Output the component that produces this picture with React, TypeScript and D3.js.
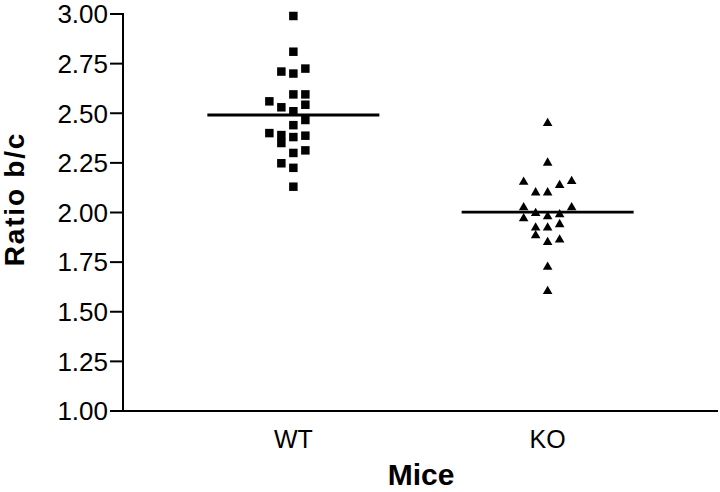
import React from "react";
import * as d3 from "d3";

const categories = ["WT", "KO"];
const yTicks = [1.0, 1.25, 1.5, 1.75, 2.0, 2.25, 2.5, 2.75, 3.0];

const wtValues = [2.99, 2.81, 2.71, 2.70, 2.725, 2.595, 2.595, 2.56, 2.53, 2.543, 2.51, 2.466, 2.44, 2.40, 2.39, 2.35, 2.38, 2.387, 2.30, 2.313, 2.248, 2.225, 2.13];
const wtCols = [0, 0, -1, 0, 1, 0, 1, -2, -1, 1, 0, 1, 0, -2, -1, -1, 0, 1, 0, 1, -1, 0, 0];

const koValues = [2.45, 2.25, 2.154, 2.157, 2.137, 2.10, 2.10, 2.025, 2.025, 1.996, 1.98, 1.99, 1.97, 1.923, 1.923, 1.94, 1.884, 1.85, 1.863, 1.725, 1.603];
const koCols = [0, 0, -2, 2, 1, -1, 0, -2, 2, -1, 0, 1, -2, -1, 0, 1, -1, 0, 1, 0, 0];

const W = 720;
const H = 492;
const margin = { left: 123, right: 2, top: 14, bottom: 81 };
const FONT = "'Liberation Sans', Arial, Helvetica, sans-serif";

export default function App() {
  const x = d3
    .scalePoint<string>()
    .domain(categories)
    .range([margin.left, W - margin.right])
    .padding(0.67);
  const y = d3.scaleLinear().domain([1, 3]).range([H - margin.bottom, margin.top]);
  const colStep = 12;
  const meanHalf = 86;

  const squarePath = d3.symbol(d3.symbolSquare, 72)() as string;
  const triPath = d3.symbol(d3.symbolTriangle, 40)() as string;

  const groups = [
    { cat: "WT", values: wtValues, cols: wtCols, path: squarePath },
    { cat: "KO", values: koValues, cols: koCols, path: triPath },
  ];

  const x0 = margin.left;
  const yBase = y(1);

  return (
    <svg
      width={W}
      height={H}
      style={{ position: "absolute", left: 0, top: 0, background: "#fff" }}
      fontFamily={FONT}
    >
      <rect x={0} y={0} width={W} height={H} fill="#fff" />
      {/* y axis */}
      <line x1={x0} x2={x0} y1={y(3) - 1} y2={yBase} stroke="#000" strokeWidth={2} />
      {yTicks.map((t) => (
        <g key={t}>
          <line x1={x0 - 13} x2={x0} y1={y(t)} y2={y(t)} stroke="#000" strokeWidth={2} />
          <text
            x={x0 - 15}
            y={y(t)}
            dy="0.36em"
            textAnchor="end"
            fontSize={26}
            fill="#000"
          >
            {t.toFixed(2)}
          </text>
        </g>
      ))}
      {/* x axis */}
      <line x1={x0} x2={W - margin.right} y1={yBase} y2={yBase} stroke="#000" strokeWidth={2} />
      {categories.map((c) => (
        <text key={c} x={x(c)} y={448} textAnchor="middle" fontSize={25} fill="#000">
          {c}
        </text>
      ))}
      {/* axis titles */}
      <text
        transform={`translate(24,199) rotate(-90)`}
        textAnchor="middle"
        fontSize={28}
        fontWeight="bold"
        letterSpacing={1.8}
        fill="#000"
      >
        Ratio b/c
      </text>
      <text x={421} y={485} textAnchor="middle" fontSize={30} fontWeight="bold" fill="#000">
        Mice
      </text>
      {/* points and means */}
      {groups.map((g) => {
        const cx = x(g.cat) as number;
        const m = d3.mean(g.values) as number;
        return (
          <g key={g.cat}>
            {g.values.map((v, i) => (
              <path
                key={i}
                d={g.path}
                transform={`translate(${cx + g.cols[i] * colStep},${y(v)})`}
                fill="#000"
              />
            ))}
            <line
              x1={cx - meanHalf}
              x2={cx + meanHalf}
              y1={y(m)}
              y2={y(m)}
              stroke="#000"
              strokeWidth={2.8}
            />
          </g>
        );
      })}
    </svg>
  );
}
